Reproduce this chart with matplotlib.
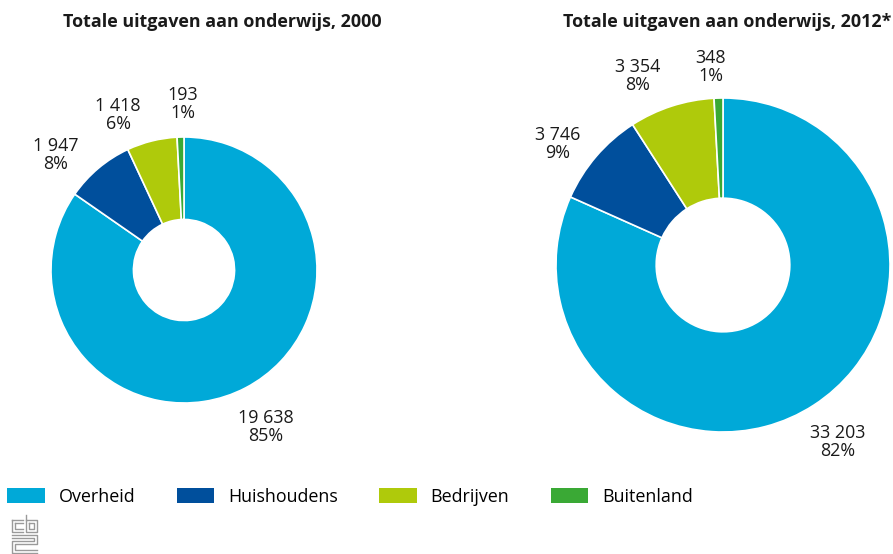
import numpy as np
import matplotlib.pyplot as plt
from matplotlib.patches import Patch

plt.rcParams['font.family'] = ['Open Sans', 'DejaVu Sans']

categories = ["Overheid", "Huishoudens", "Bedrijven", "Buitenland"]
colors = ["#00a9d8", "#004f9c", "#afca0b", "#3aa935"]

titles = ["Totale uitgaven aan onderwijs, 2000", "Totale uitgaven aan onderwijs, 2012*"]
values_2000 = [19638, 1947, 1418, 193]
values_2012 = [33203, 3746, 3354, 348]
labels_2000 = ["19 638\n85%", "1 947\n8%", "1 418\n6%", "193\n1%"]
labels_2012 = ["33 203\n82%", "3 746\n9%", "3 354\n8%", "348\n1%"]

W, H = 893, 554
fig = plt.figure(figsize=(W / 100, H / 100), dpi=100)


def pie_axes(cx, cy, r):
    return fig.add_axes([(cx - r) / W, (H - cy - r) / H, 2 * r / W, 2 * r / H])


# (axes, values, labels, title, label distances, label angle nudges, hole, title x)
panels = [
    (pie_axes(184, 270, 133), values_2000, labels_2000, titles[0],
     [1.33, 1.30, 1.27, 1.25], [0, 8, 9, -1], 0.38, 222),
    (pie_axes(723, 265, 167), values_2012, labels_2012, titles[1],
     [1.26, 1.225, 1.24, 1.19], [0, 4.5, 6.5, 2], 0.40, 727),
]

for ax, vals, labs, title, dists, nudges, hole, tx in panels:
    wedges, _ = ax.pie(vals, colors=colors, startangle=90, counterclock=False,
                       wedgeprops=dict(width=1 - hole, edgecolor="white", linewidth=1.2))
    for w, lab, d, n in zip(wedges, labs, dists, nudges):
        ang = np.deg2rad((w.theta1 + w.theta2) / 2 + n)
        ax.text(d * np.cos(ang), d * np.sin(ang), lab, ha="center", va="center",
                fontsize=12.9, color="#1a1a1a", linespacing=1.0)
    ax.set_xlim(-1, 1)
    ax.set_ylim(-1, 1)
    ax.set_aspect("equal")
    fig.text(tx / W, 1 - 22 / H, title, ha="center", va="center",
             fontsize=12.9, fontweight="bold", color="#1a1a1a")

handles = [Patch(facecolor=c, edgecolor="none") for c in colors]
fig.legend(handles, categories, loc="center left", bbox_to_anchor=(0.004, 1 - 497 / H),
           ncol=4, frameon=False, fontsize=12.9, handlelength=2.1, handleheight=0.9,
           handletextpad=0.78, columnspacing=2.3, borderaxespad=0.0, borderpad=0.2)

# small grey logo bottom-left
lc = "#9a9a9a"
x0, y0 = 12 / W, 1 - 520 / H
sx, sy = 1 / W, 1 / H
segs = [
    [(0, 0), (0, 12), (11, 12)], [(3, 3), (3, 9), (11, 9)], [(0, 0), (11, 0)], [(3, 3), (11, 3)],
    [(14, -5), (14, 12), (25, 12), (25, 0), (14, 0)], [(17, 3), (17, 9), (22, 9), (22, 3), (17, 3)],
    [(0, 15), (25, 15), (25, 24), (3, 24), (3, 30), (25, 30)],
    [(0, 18), (22, 18), (22, 21), (0, 21), (0, 33), (25, 33)],
]
for s in segs:
    xs = [x0 + p[0] * sx for p in s]
    ys = [y0 - p[1] * sy for p in s]
    fig.add_artist(plt.Line2D(xs, ys, color=lc, lw=1.0))

fig.savefig("out.png", dpi=100)
